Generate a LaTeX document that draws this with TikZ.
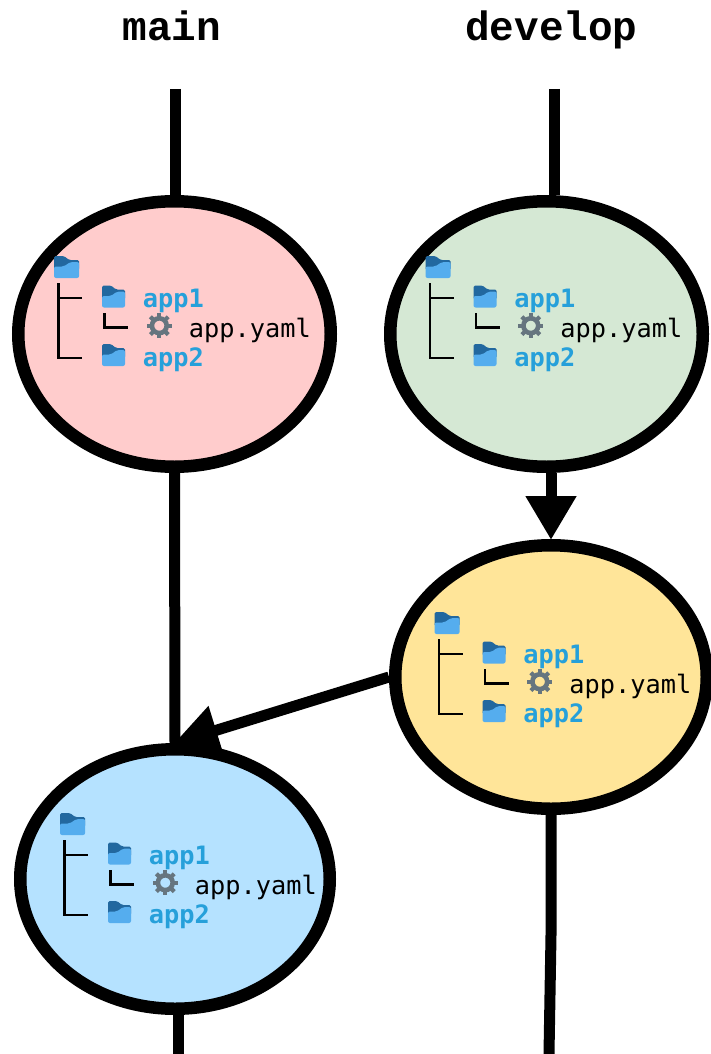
\documentclass[tikz,border=0pt]{standalone}
\usepackage{fontspec}
\usetikzlibrary{shapes.geometric,arrows.meta}
\newfontfamily\treefont{DejaVu Sans Mono}
\newfontfamily\titlefont{Liberation Mono}
\definecolor{nodered}{HTML}{FFCCCC}
\definecolor{nodegreen}{HTML}{D5E8D4}
\definecolor{nodeyellow}{HTML}{FFE599}
\definecolor{nodeblue}{HTML}{B5E2FF}
\definecolor{dirblue}{HTML}{26A0DA}
\definecolor{foldback}{HTML}{22689F}
\definecolor{foldfront}{HTML}{55ADEE}
\definecolor{gearcol}{HTML}{66757F}
\tikzset{
  x=1pt,y=-1pt,
  commit/.style={ellipse,draw=black,line width=12.5pt,inner sep=0pt,minimum width=312.5pt,minimum height=265.5pt},
  branchline/.style={line width=11pt,draw=black},
  flow/.style={branchline,-{Triangle[length=44pt,width=48pt]},shorten >=-1pt},
  titletext/.style={font=\titlefont\bfseries\fontsize{41pt}{41pt}\selectfont,text=black,inner sep=0pt,anchor=base},
  dirtext/.style={font=\treefont\bfseries\fontsize{25.3pt}{25.3pt}\selectfont,text=dirblue,inner sep=0pt,anchor=base west},
  filetext/.style={font=\treefont\fontsize{25.3pt}{25.3pt}\selectfont,text=black,inner sep=0pt,anchor=base west},
  treeline/.style={draw=black,line width=2.2pt},
}
% folder icon with top-left corner at (#1,#2), horizontal scale #3
\newcommand{\foldericon}[3]{%
  \begin{scope}[shift={(#1,#2)},xscale=#3]
    \fill[foldback,rounded corners=1.5pt] (0,0) -- (9,0) -- (14,4) -- (23,4) -- (23,14) -- (0,14) -- cycle;
    \fill[foldfront,rounded corners=2pt] (0,22) -- (0,10.5) -- (9,10.5) -- (15,6) -- (23,6) -- (23,22) -- cycle;
  \end{scope}}
\newcommand{\gearicon}[2]{%
  \begin{scope}[shift={(#1,#2)}]
    \draw[gearcol,line width=4.6pt] (0,0) circle[radius=7.4];
    \foreach \a in {0,45,...,315}{\draw[gearcol,line width=4.2pt] (\a:8) -- (\a:12.6);}
  \end{scope}}
% tree contents, shifted by (#2,#3) from the first commit's layout
\newcommand{\filetree}[3]{%
  \begin{scope}[shift={(#2,#3)}]
    \foldericon{54}{256}{1.09}
    \foldericon{102}{285.5}{1}
    \foldericon{102}{344}{1}
    \gearicon{159.3}{325.7}
    \draw[treeline] (58.5,283) -- (58.5,357.7) -- (82,357.7);
    \draw[treeline] (58.5,297.7) -- (82,297.7);
    \draw[treeline] (104.5,313) -- (104.5,327.5) -- (128,327.5);
    \node[dirtext] (#1one) at (142.7,307.5) {app1};
    \node[filetext] (#1file) at (188.7,337.5) {app.yaml};
    \node[dirtext] (#1two) at (142.7,366.5) {app2};
  \end{scope}}
\begin{document}
\begin{tikzpicture}
\useasboundingbox (0,0) rectangle (711,1054);
\node[titletext] (tmain) at (172,41) {main};
\node[titletext] (tdev) at (551.5,41) {develop};
\coordinate (maintop) at (175,89);
\coordinate (devtop) at (554,89);
\coordinate (mainend) at (178,1054);
\coordinate (devmid) at (551,935);
\coordinate (devend) at (549,1054);
\node[commit,fill=nodered] (a) at (174.5,334) {};
\node[commit,fill=nodegreen] (b) at (546.5,334) {};
\node[commit,fill=nodeyellow,minimum width=311.5pt,minimum height=263.5pt] (c) at (551,677) {};
\node[commit,fill=nodeblue,minimum width=309.5pt,minimum height=259.5pt] (d) at (175,879) {};
\draw[branchline] (maintop) -- (maintop |- a.north);
\draw[branchline] (devtop) -- (devtop |- b.north);
\draw[branchline] (a.south) -- (d.north);
\draw[flow] (c.north |- b.south) -- (c.north);
\draw[flow] (c.west) -- (d.north);
\draw[branchline] (mainend |- d.south) -- (mainend);
\draw[branchline] (c.south) -- (devmid) -- (devend);
\filetree{a}{0}{0}
\filetree{b}{371.5}{0}
\filetree{c}{380.5}{356}
\filetree{d}{6}{557}
\end{tikzpicture}
\end{document}
